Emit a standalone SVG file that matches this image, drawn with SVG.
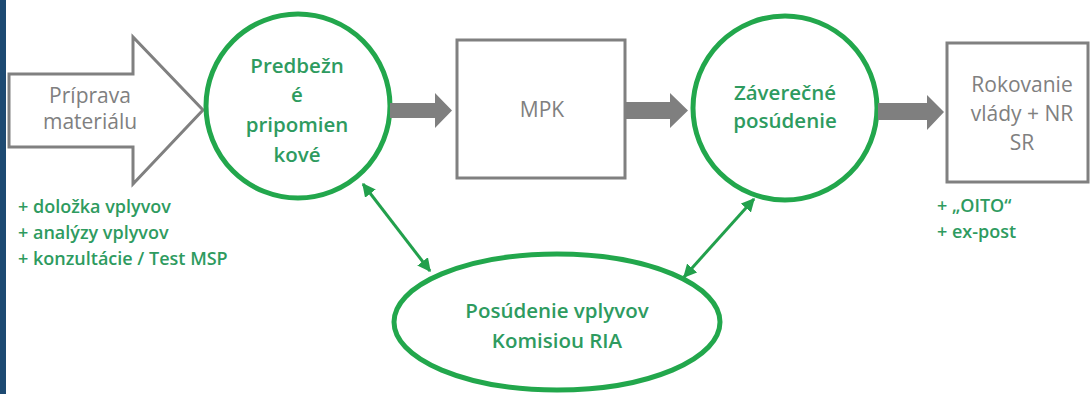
<svg xmlns="http://www.w3.org/2000/svg" width="1090" height="394" viewBox="0 0 1090 394">
<defs>
<style>
.gbox{fill:#fff;stroke:#808080;stroke-width:3}
.gc{fill:#fff;stroke:#22a74c;stroke-width:5}
.gt{font-family:"Open Sans",Lato,sans-serif;font-size:21px;fill:#808080;text-anchor:middle}
.ct{font-family:"Open Sans",Lato,sans-serif;font-size:20.5px;font-weight:600;fill:#2e9b5f;text-anchor:middle}
.nt{font-family:"Open Sans",Lato,sans-serif;font-size:18px;font-weight:600;fill:#2e9b5f}
.fat{fill:#7f7f7f}
.link{stroke:#22a04c;stroke-width:3;fill:none;marker-start:url(#ah);marker-end:url(#ah)}
</style>
<marker id="ah" viewBox="0 0 10 10" refX="9" refY="5" markerWidth="4.5" markerHeight="4.5" orient="auto-start-reverse" markerUnits="strokeWidth">
<path d="M0,0 L10,5 L0,10 Z" fill="#22a04c"/>
</marker>
</defs>
<rect x="0" y="0" width="1090" height="394" fill="#fff"/>
<rect x="0" y="0" width="6" height="394" fill="#1d4a72"/>

<g id="priprava">
<path class="gbox" d="M9,74 L133,74 L133,37 L203,110 L133,184 L133,147 L9,147 Z"/>
<text class="gt" x="90" y="103">Príprava</text>
<text class="gt" x="90" y="129">materiálu</text>
</g>

<g id="predbezne">
<circle class="gc" cx="298" cy="106" r="92"/>
<text class="ct" x="297" y="73">Predbežn</text>
<text class="ct" x="297" y="102">é</text>
<text class="ct" x="297" y="132">pripomien</text>
<text class="ct" x="297" y="162">kové</text>
</g>

<g id="mpk">
<rect class="gbox" x="457" y="40" width="168" height="138"/>
<text class="gt" x="542" y="117">MPK</text>
</g>

<g id="zaverecne">
<circle class="gc" cx="785" cy="108" r="92"/>
<text class="ct" x="785" y="100">Záverečné</text>
<text class="ct" x="785" y="128">posúdenie</text>
</g>

<g id="rokovanie">
<rect class="gbox" x="947" y="43" width="141" height="139"/>
<text class="gt" x="1022" y="92">Rokovanie</text>
<text class="gt" x="1022" y="121">vlády + NR</text>
<text class="gt" x="1022" y="150">SR</text>
</g>

<g id="ria">
<ellipse class="gc" cx="557" cy="322" rx="163" ry="68"/>
<text class="ct" x="557" y="318">Posúdenie vplyvov</text>
<text class="ct" x="557" y="348">Komisiou RIA</text>
</g>

<g id="notes-left">
<text class="nt" x="18" y="213">+ doložka vplyvov</text>
<text class="nt" x="18" y="239">+ analýzy vplyvov</text>
<text class="nt" x="18" y="265">+ konzultácie / Test MSP</text>
</g>

<g id="notes-right">
<text class="nt" x="937" y="212">+ „OITO“</text>
<text class="nt" x="937" y="238">+ ex-post</text>
</g>

<g id="connectors">
<path class="fat" d="M390,103 L435,103 L435,93 L452,110.5 L435,128 L435,118 L390,118 Z"/>
<path class="fat" d="M625,102 L670,102 L670,93 L688,110.5 L670,128 L670,119 L625,119 Z"/>
<path class="fat" d="M878,103 L927,103 L927,95 L944,112 L927,130 L927,120 L878,120 Z"/>
<line class="link" x1="363" y1="184" x2="430" y2="271"/>
<line class="link" x1="754" y1="199" x2="684" y2="277"/>
</g>
</svg>
